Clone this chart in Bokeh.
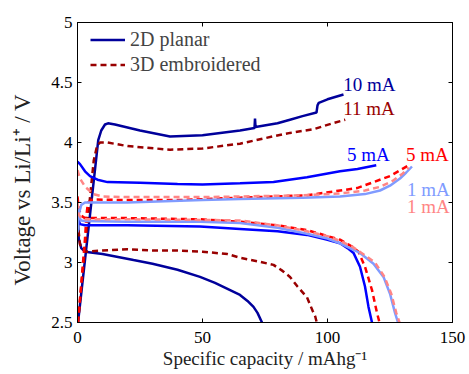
from bokeh.plotting import figure
from bokeh.models import (Range1d, FixedTicker, LinearAxis, Legend, LegendItem, Label)
from bokeh.embed import file_html
from bokeh.resources import INLINE

# ---------------- data ----------------
# 2D planar, 10 mA
x_2d_10_ch = [0.2, 3.9, 8.3, 9.5, 11.0, 12.2, 15, 25, 37, 50, 65, 70.8, 71.0, 71.2, 80, 85, 90, 95.6, 96.0, 96.5, 100, 106.4]
y_2d_10_ch = [2.5, 3.19, 4.02, 4.10, 4.15, 4.16, 4.15, 4.10, 4.05, 4.06, 4.10, 4.12, 4.20, 4.13, 4.16, 4.19, 4.22, 4.25, 4.31, 4.33, 4.36, 4.40]
x_2d_10_dis = [0, 0.5, 1.5, 3, 10, 22.4, 30, 40, 49, 55, 60, 65, 68, 70.4, 72, 73.8]
y_2d_10_dis = [3.45, 3.2, 3.12, 3.09, 3.07, 3.02, 2.99, 2.94, 2.88, 2.83, 2.78, 2.73, 2.68, 2.63, 2.58, 2.5]

# 3D embroidered, 11 mA
x_3d_11_ch = [0.2, 3.2, 6.5, 7.8, 9, 12, 20, 37, 50, 65, 78, 85, 94.4, 102, 107.1]
y_3d_11_ch = [2.5, 3.17, 3.85, 3.97, 4.0, 4.0, 3.97, 3.94, 3.95, 3.99, 4.05, 4.08, 4.11, 4.16, 4.19]
x_3d_11_dis = [0, 1, 3, 10, 20, 30, 40, 50, 60, 65, 72, 78.4, 82, 85, 88, 91.8, 94, 95.1, 95.7]
y_3d_11_dis = [3.35, 3.15, 3.09, 3.10, 3.11, 3.10, 3.10, 3.09, 3.07, 3.04, 3.01, 2.98, 2.93, 2.88, 2.80, 2.71, 2.60, 2.55, 2.5]

# 2D planar, 5 mA
x_2d_5_ch = [0, 1, 3, 5, 8, 12, 25, 40, 50, 65, 78.4, 91.8, 105, 112, 119.5]
y_2d_5_ch = [3.84, 3.82, 3.76, 3.72, 3.69, 3.67, 3.665, 3.655, 3.65, 3.66, 3.67, 3.71, 3.76, 3.78, 3.81]
x_2d_5_dis = [0, 0.5, 1, 3, 20, 49, 65, 80, 91.8, 100, 105, 108, 110.4, 113, 115, 116.4, 117.8]
y_2d_5_dis = [3.42, 3.35, 3.32, 3.31, 3.31, 3.30, 3.28, 3.26, 3.23, 3.19, 3.16, 3.12, 3.08, 2.965, 2.80, 2.63, 2.5]

# 3D embroidered, 5 mA
x_3d_5_ch = [0.2, 3.0, 3.6, 4.2, 6, 20, 40, 65, 91.8, 111.8, 125, 132.4]
y_3d_5_ch = [2.5, 3.2, 3.4, 3.5, 3.525, 3.52, 3.52, 3.54, 3.56, 3.62, 3.72, 3.81]
x_3d_5_dis = [0, 0.5, 1.5, 3, 20, 49, 65, 80, 91.8, 100, 105, 110, 112.4, 115, 117.8, 119.8, 120.8]
y_3d_5_dis = [3.55, 3.45, 3.39, 3.37, 3.37, 3.36, 3.34, 3.31, 3.27, 3.22, 3.19, 3.13, 3.09, 2.965, 2.77, 2.58, 2.5]

# 2D planar, 1 mA
x_2d_1_ch = [0, 0.5, 1.5, 3, 20, 50, 65, 90, 105, 115, 121, 125, 129, 131.5, 133.8]
y_2d_1_ch = [3.25, 3.4, 3.48, 3.5, 3.5, 3.52, 3.53, 3.54, 3.55, 3.57, 3.60, 3.64, 3.70, 3.75, 3.80]
x_2d_1_dis = [0, 0.5, 1.5, 3, 20, 49, 65, 80, 91.8, 100, 105, 110, 113, 118.4, 122.4, 125, 127, 128.2]
y_2d_1_dis = [3.45, 3.38, 3.35, 3.345, 3.34, 3.34, 3.33, 3.29, 3.24, 3.20, 3.16, 3.11, 3.08, 2.99, 2.88, 2.74, 2.58, 2.5]

# 3D embroidered, 1 mA
x_3d_1_ch = [0, 1, 3.1, 6.4, 10, 20, 50, 65, 90, 105, 115, 121, 126, 130, 132.5]
y_3d_1_ch = [3.77, 3.70, 3.63, 3.57, 3.55, 3.545, 3.545, 3.55, 3.56, 3.575, 3.60, 3.63, 3.68, 3.74, 3.79]
x_3d_1_dis = [0, 0.5, 1.5, 3, 20, 49, 65, 80, 91.8, 100, 105, 110, 115, 119, 122.8, 125.5, 127.5, 128.8]
y_3d_1_dis = [3.5, 3.4, 3.37, 3.36, 3.36, 3.355, 3.35, 3.31, 3.26, 3.22, 3.18, 3.13, 3.06, 3.0, 2.88, 2.74, 2.58, 2.5]

x_ticks = [0, 50, 100, 150]
y_ticks = [2.5, 3, 3.5, 4, 4.5, 5]
y_tick_labels = ["2.5", "3", "3.5", "4", "4.5", "5"]

legend_labels = ["2D planar", "3D embroidered"]
curve_labels = ["10 mA", "11 mA", "5 mA", "5 mA", "1 mA", "1 mA"]
curve_label_x = [106.3, 106.3, 107.8, 131.4, 131.8, 131.8]
curve_label_y = [4.48, 4.28, 3.896, 3.896, 3.61, 3.465]

# ---------------- styling ----------------
NAVY = "#00009B"
DARKRED = "#990000"
BLUE = "#0000FF"
RED = "#FF0000"
LIGHTBLUE = "#809BFF"
PINK = "#FF8585"
FONT = "Liberation Serif"
LW = 2.5
DASH = "6 4"

p = figure(width=469, height=374, output_backend="svg", toolbar_location=None,
           x_range=Range1d(0, 150), y_range=Range1d(2.5, 5),
           min_border_left=77, min_border_right=17, min_border_top=22, min_border_bottom=52)
p.grid.visible = False
p.outline_line_color = "black"
p.outline_line_width = 1
p.background_fill_color = "white"
p.border_fill_color = "white"

r_2d_10_ch = p.line(x_2d_10_ch, y_2d_10_ch, line_color=NAVY, line_width=LW)
p.line(x_2d_10_dis, y_2d_10_dis, line_color=NAVY, line_width=LW)
r_3d_11_ch = p.line(x_3d_11_ch, y_3d_11_ch, line_color=DARKRED, line_width=LW, line_dash=DASH)
p.line(x_3d_11_dis, y_3d_11_dis, line_color=DARKRED, line_width=LW, line_dash=DASH)
p.line(x_2d_5_ch, y_2d_5_ch, line_color=BLUE, line_width=LW)
p.line(x_2d_5_dis, y_2d_5_dis, line_color=BLUE, line_width=LW)
p.line(x_3d_5_ch, y_3d_5_ch, line_color=RED, line_width=LW, line_dash=DASH)
p.line(x_3d_5_dis, y_3d_5_dis, line_color=RED, line_width=LW, line_dash=DASH)
p.line(x_2d_1_ch, y_2d_1_ch, line_color=LIGHTBLUE, line_width=LW)
p.line(x_2d_1_dis, y_2d_1_dis, line_color=LIGHTBLUE, line_width=LW)
p.line(x_3d_1_ch, y_3d_1_ch, line_color=PINK, line_width=LW, line_dash=DASH)
p.line(x_3d_1_dis, y_3d_1_dis, line_color=PINK, line_width=LW, line_dash=DASH)

label_colors = [NAVY, DARKRED, BLUE, RED, LIGHTBLUE, PINK]
for t, lx, ly, c in zip(curve_labels, curve_label_x, curve_label_y, label_colors):
    p.add_layout(Label(x=lx, y=ly, text=t, text_color=c, text_font=FONT,
                       text_font_size="19px", text_align="left", text_baseline="middle"))

# axes
for ax in (p.xaxis[0], p.yaxis[0]):
    ax.major_tick_in = 4
    ax.major_tick_out = 0
    ax.minor_tick_line_color = None
    ax.major_label_text_font = FONT
    ax.major_label_text_font_size = "17px"
    ax.major_label_text_color = "black"
    ax.axis_label_text_font = FONT
    ax.axis_label_text_font_style = "normal"
    ax.axis_label_text_color = "#222222"
    ax.axis_line_color = "black"

p.xaxis.axis_label_text_font_size = "19px"
p.yaxis.axis_label_text_font_size = "23px"
p.xaxis.ticker = FixedTicker(ticks=x_ticks)
p.yaxis.ticker = FixedTicker(ticks=y_ticks)
p.yaxis.major_label_overrides = dict(zip(y_ticks, y_tick_labels))
p.xaxis.axis_label = "Specific capacity / mAhg\u207b\u00b9"
p.yaxis.axis_label = "Voltage vs Li/Li\u207a / V" + "\u2002" * 3
p.xaxis.major_label_standoff = 9
p.xaxis.axis_label_standoff = 2
p.yaxis.major_label_standoff = 5
p.yaxis.axis_label_standoff = 13

top_ax = LinearAxis(ticker=FixedTicker(ticks=x_ticks), major_tick_in=4, major_tick_out=0,
                    minor_tick_line_color=None, major_label_text_font_size="8px",
                    major_label_text_color=None, major_label_standoff=0)
right_ax = LinearAxis(ticker=FixedTicker(ticks=y_ticks), major_tick_in=4, major_tick_out=0,
                      minor_tick_line_color=None, major_label_text_font_size="8px",
                      major_label_text_color=None, major_label_standoff=0)
p.add_layout(top_ax, "above")
p.add_layout(right_ax, "right")

legend = Legend(items=[LegendItem(label=legend_labels[0], renderers=[r_2d_10_ch]),
                       LegendItem(label=legend_labels[1], renderers=[r_3d_11_ch])],
                location=(0, 233), margin=0, padding=13, spacing=2,
                glyph_width=35, glyph_height=23, label_height=23, label_standoff=5,
                label_text_font=FONT, label_text_font_size="20px",
                border_line_alpha=0, background_fill_alpha=0)
p.add_layout(legend)

open("out.html", "w").write(file_html(p, INLINE))
